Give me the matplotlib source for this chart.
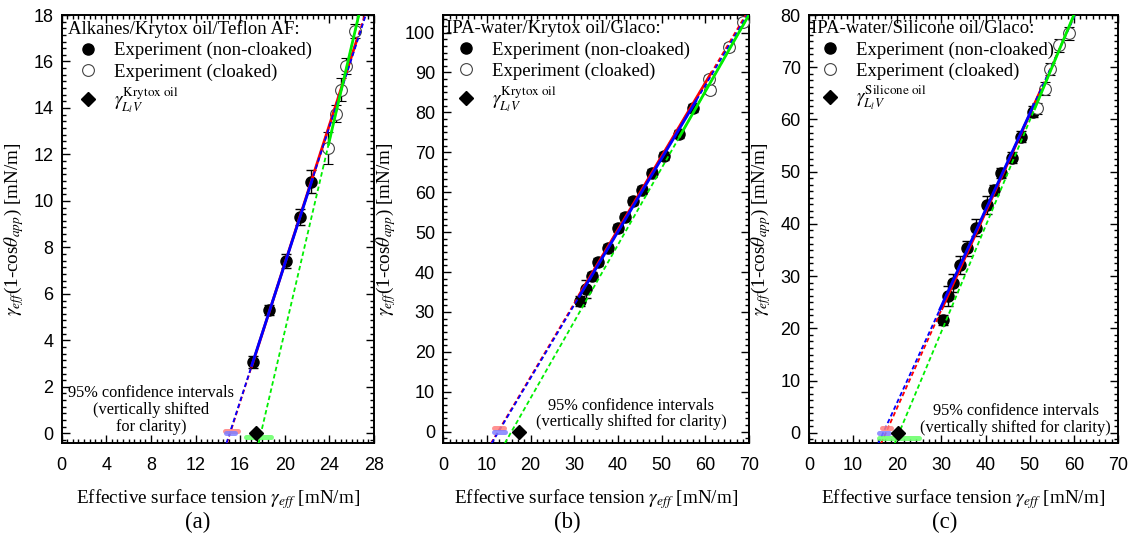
import numpy as np
import matplotlib
matplotlib.use('Agg')
import matplotlib.pyplot as plt
from matplotlib.ticker import MultipleLocator, AutoMinorLocator
from matplotlib.lines import Line2D

plt.rcParams['font.family'] = ['Liberation Serif', 'DejaVu Serif']
plt.rcParams['mathtext.fontset'] = 'stix'

# ---------------- Panel (a) ----------------
a_title = 'Alkanes/Krytox oil/Teflon AF:'
a_oil = 'Krytox oil'
a_nc_x = [17.17, 18.60, 20.09, 21.40, 22.38]
a_nc_y = [3.07, 5.31, 7.42, 9.30, 10.83]
a_nc_err = [0.25, 0.20, 0.30, 0.35, 0.50]
a_c_x = [23.87, 24.61, 25.00, 25.50, 26.34]
a_c_y = [12.27, 13.76, 14.79, 15.80, 17.33]
a_c_err = [0.70, 0.35, 0.50, 0.35, 0.30]
a_oil_gamma = 17.4
# fits: red (all), blue (non-cloaked), green (cloaked)
a_fit_slope = [1.49, 1.475, 2.05]
a_fit_x0 = [15.10, 15.06, 17.86]
a_fit_lo = [17.0, 17.0, 23.9]
a_fit_hi = [26.5, 22.5, 26.9]
a_ci_center = [15.20, 15.15, 17.63]
a_ci_half = [0.60, 0.42, 1.13]
a_ci_shift = [0.12, 0.03, -0.15]

# ---------------- Panel (b) ----------------
b_title = 'IPA-water/Krytox oil/Glaco:'
b_oil = 'Krytox oil'
b_nc_x = [31.4, 32.6, 34.0, 35.5, 37.6, 40.1, 41.7, 43.4, 45.5, 47.8, 50.5, 53.9, 57.2]
b_nc_y = [32.8, 35.8, 39.1, 42.6, 46.1, 51.0, 53.7, 57.7, 60.6, 64.8, 69.1, 74.5, 81.2]
b_nc_err = [1.3, 2.2, 1.0, 1.0, 1.0, 1.0, 1.0, 1.0, 1.0, 1.0, 1.0, 1.0, 1.0]
b_c_x = [61.1, 60.9, 65.4, 68.6]
b_c_y = [85.6, 88.4, 96.4, 102.6]
b_c_err = [1.0, 1.0, 1.0, 1.0]
b_oil_gamma = 17.4
b_fit_slope = [1.84, 1.833, 1.92]
b_fit_x0 = [12.5, 12.65, 15.6]
b_fit_lo = [31.0, 31.0, 54.0]
b_fit_hi = [61.5, 58.0, 70.0]
b_ci_center = [12.70, 12.85]
b_ci_half = [1.10, 1.25]
b_ci_shift = [1.0, 0.0]

# ---------------- Panel (c) ----------------
c_title = 'IPA-water/Silicone oil/Glaco:'
c_oil = 'Silicone oil'
c_nc_x = [30.3, 31.6, 32.7, 34.2, 35.7, 37.8, 40.3, 41.9, 43.6, 45.9, 48.1, 50.7]
c_nc_y = [21.6, 26.2, 28.7, 32.1, 35.3, 39.3, 43.6, 46.5, 49.7, 52.7, 56.7, 61.5]
c_nc_err = [1.0, 2.0, 1.8, 1.7, 1.5, 1.7, 1.7, 1.0, 1.0, 1.0, 1.0, 1.0]
c_c_x = [51.6, 53.4, 54.6, 56.7, 58.8]
c_c_y = [62.1, 65.9, 69.7, 74.2, 76.5]
c_c_err = [1.0, 1.2, 1.2, 1.2, 1.2]
c_oil_gamma = 20.25
c_fit_slope = [1.87, 1.84, 2.02]
c_fit_x0 = [17.4, 16.8, 20.4]
c_fit_lo = [30.0, 29.5, 51.0]
c_fit_hi = [52.6, 51.0, 60.5]
c_ci_center = [17.5, 17.05, 20.45]
c_ci_half = [1.0, 1.15, 4.55]
c_ci_shift = [0.9, 0.05, -1.0]

fit_colors = ['#ff0000', '#0000ff', '#00ee00']
ci_colors = ['#ff7f7f', '#7f7fff', '#66ff66']

W, H = 1137, 543
fig = plt.figure(figsize=(W / 100, H / 100), dpi=100)


def px_ax(l, r, t, b):
    return [l / W, 1 - b / H, (r - l) / W, (b - t) / H]


def draw_panel(rect, xlim, ylim, xmaj, xminn, ymaj, yminn,
               nc_x, nc_y, nc_err, c_x, c_y, c_err, oil_gamma,
               fs, fx0, flo, fhi, cic, cih, cis,
               title, oil, leg_anchor, ci_pos, ci_text, label, label_x):
    ax = fig.add_axes(px_ax(*rect))
    ax.set_xlim(*xlim)
    ax.set_ylim(*ylim)
    # experimental points
    ax.errorbar(nc_x, nc_y, yerr=nc_err, fmt='o', color='k', mfc='k', mec='k',
                ms=8, elinewidth=1.0, capsize=3.5, capthick=1.0, zorder=3)
    ax.errorbar(c_x, c_y, yerr=c_err, fmt='o', color='k', mfc='white', mec='#444444',
                mew=0.8, ms=8.5, elinewidth=1.0, capsize=3.5, capthick=1.0, zorder=3)
    # fit lines
    for i in range(len(fs)):
        ytop, ybot = ylim[1], ylim[0]
        xd = np.array([fx0[i] + ybot / fs[i], fx0[i] + ytop / fs[i]])
        ax.plot(xd, fs[i] * (xd - fx0[i]), color=fit_colors[i], lw=1.3,
                ls=(0, (2.5, 1.6)), zorder=4 + i * 0.1)
        xs = np.array([flo[i], fhi[i]])
        ax.plot(xs, fs[i] * (xs - fx0[i]), color=fit_colors[i], lw=2.0,
                solid_capstyle='butt', zorder=4.05 + i * 0.1)
    # confidence intervals
    for i in range(len(cic)):
        ax.plot([cic[i] - cih[i], cic[i] + cih[i]], [cis[i], cis[i]],
                color=ci_colors[i], lw=3.6, alpha=0.85, solid_capstyle='round', zorder=5)
    ax.plot([oil_gamma], [0], marker='D', color='k', ms=7.5, ls='none', zorder=6)
    ax.text(ci_pos[0], ci_pos[1], ci_text, ha='center', va='center',
            fontsize=11.8, linespacing=1.05, zorder=7)
    # ticks
    ax.xaxis.set_major_locator(MultipleLocator(xmaj))
    ax.yaxis.set_major_locator(MultipleLocator(ymaj))
    ax.xaxis.set_minor_locator(AutoMinorLocator(xminn))
    ax.yaxis.set_minor_locator(AutoMinorLocator(yminn))
    ax.tick_params(which='both', direction='in', top=True, right=True, width=1.0)
    ax.tick_params(which='major', length=5.5)
    ax.tick_params(which='minor', length=2.8)
    ax.tick_params(axis='x', which='major', pad=10)
    ax.tick_params(axis='y', which='major', pad=6)
    for lab in ax.get_xticklabels() + ax.get_yticklabels():
        lab.set_fontfamily(['Liberation Sans', 'DejaVu Sans'])
        lab.set_fontsize(13)
    for sp in ax.spines.values():
        sp.set_linewidth(1.4)
    ax.set_xlabel(r'Effective surface tension $\gamma_{eff}$ [mN/m]', fontsize=13.8, labelpad=9)
    ax.set_ylabel(r'$\gamma_{eff}$(1-cos$\theta_{app}$) [mN/m]', fontsize=13.8, labelpad=5)
    # legend
    handles = [Line2D([], [], marker='o', ls='none', mfc='k', mec='k', ms=8),
               Line2D([], [], marker='o', ls='none', mfc='white', mec='#444444', mew=0.8, ms=8.5),
               Line2D([], [], marker='D', ls='none', color='k', ms=7.5)]
    labels = ['Experiment (non-cloaked)', 'Experiment (cloaked)',
              r'$\gamma_{L_l V}^{\mathrm{' + oil.replace(' ', r'\ ') + '}}$']
    leg = ax.legend(handles, labels, title=title, loc='upper left',
                    bbox_to_anchor=leg_anchor, frameon=False, fontsize=13.5,
                    title_fontsize=13.5, alignment='left', handlelength=2.1,
                    handletextpad=0.35, labelspacing=0.22, borderpad=0,
                    borderaxespad=0)
    leg.set_zorder(8)
    fig.text(label_x / W, 1 - 522 / H, label, ha='center', va='center', fontsize=16.5)
    return ax


draw_panel((61.7, 374, 15, 443.3), (0, 28), (-0.43, 18), 4, 8, 2, 7,
           a_nc_x, a_nc_y, a_nc_err, a_c_x, a_c_y, a_c_err, a_oil_gamma,
           a_fit_slope, a_fit_x0, a_fit_lo, a_fit_hi, a_ci_center, a_ci_half, a_ci_shift,
           a_title, a_oil, (0.02, 0.988), (8.0, 1.0),
           '95% confidence intervals\n(vertically shifted\nfor clarity)', '(a)', 198)

draw_panel((443.3, 749, 15, 443.3), (0, 70), (-2.9, 104.4), 10, 7, 10, 6,
           b_nc_x, b_nc_y, b_nc_err, b_c_x, b_c_y, b_c_err, b_oil_gamma,
           b_fit_slope, b_fit_x0, b_fit_lo, b_fit_hi, b_ci_center, b_ci_half, b_ci_shift,
           b_title, b_oil, (0.01, 0.988), (43.0, 4.4),
           '95% confidence intervals\n(vertically shifted for clarity)', '(b)', 567)

draw_panel((809, 1118, 15, 443.3), (0, 70), (-2.0, 80), 10, 7, 10, 8,
           c_nc_x, c_nc_y, c_nc_err, c_c_x, c_c_y, c_c_err, c_oil_gamma,
           c_fit_slope, c_fit_x0, c_fit_lo, c_fit_hi, c_ci_center, c_ci_half, c_ci_shift,
           c_title, c_oil, (0.005, 0.988), (46.8, 2.5),
           '95% confidence intervals\n(vertically shifted for clarity)', '(c)', 945)

fig.savefig('out.png', dpi=100)
